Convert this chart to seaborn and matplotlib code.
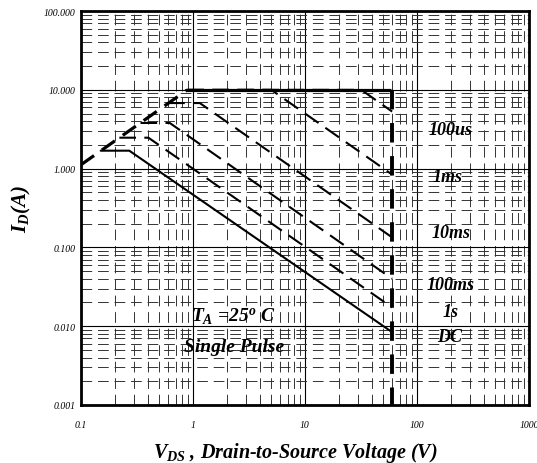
import numpy as np
import matplotlib
matplotlib.use("Agg")
import matplotlib.pyplot as plt
from matplotlib.ticker import LogLocator, NullFormatter, FixedLocator
import seaborn as sns

# SOA curve vertices (V in volts, I in amps)
rds_v = [0.1, 0.89]
rds_i = [1.12, 10.0]

idm_v = [0.89, 42.0]
idm_i = [10.0, 10.0]
idm_tail_v = [42.0, 60.0]
idm_tail_i = [10.0, 10.0]

bv_v = [60.0, 60.0]
bv_i = [10.0, 0.001]

pulse_names = ["100us", "1ms", "10ms", "100ms", "1s"]
pulse_v = [[0.89, 31.8, 60.0],
           [0.89, 5.0, 60.0],
           [0.60, 1.15, 60.0],
           [0.34, 0.62, 60.0],
           [0.22, 0.40, 60.0]]
pulse_i = [[10.0, 10.0, 5.3],
           [10.0, 10.0, 0.84],
           [6.8, 6.8, 0.134],
           [3.8, 3.8, 0.040],
           [2.47, 2.47, 0.0173]]

dc_v = [0.15, 0.27, 60.0]
dc_i = [1.69, 1.69, 0.0084]

# curve labels on the right
label_text = ["100us", "1ms", "10ms", "100ms", "1s", "DC"]
label_v = [200, 189, 200, 200, 200, 195]
label_i = [3.1, 0.80, 0.155, 0.034, 0.0154, 0.0075]

xtick_vals = [0.1, 1, 10, 100, 1000]
xtick_labels = ["0.1", "1", "10", "100", "1000"]
ytick_vals = [0.001, 0.01, 0.1, 1, 10, 100]
ytick_labels = ["0.001", "0.010", "0.100", "1.000", "10.000", "100.000"]

sns.set_theme(style="white")
plt.rcParams["font.family"] = ["Liberation Serif", "DejaVu Serif"]
plt.rcParams["text.color"] = "black"
plt.rcParams["axes.labelcolor"] = "black"
plt.rcParams["xtick.color"] = "black"
plt.rcParams["ytick.color"] = "black"
plt.rcParams["mathtext.fontset"] = "custom"
plt.rcParams["mathtext.it"] = "Liberation Serif:italic:bold"
plt.rcParams["mathtext.rm"] = "Liberation Serif:italic:bold"
plt.rcParams["mathtext.bf"] = "Liberation Serif:italic:bold"

fig = plt.figure(figsize=(5.37, 4.64), dpi=100)
ax = fig.add_axes([0.1508, 0.125, 0.8343, 0.849])
ax.set_xscale("log")
ax.set_yscale("log")
ax.set_xlim(0.1, 1000)
ax.set_ylim(0.001, 100)

# grid
ax.xaxis.set_minor_locator(LogLocator(base=10, subs=range(2, 10)))
ax.yaxis.set_minor_locator(LogLocator(base=10, subs=range(2, 10)))
ax.xaxis.set_minor_formatter(NullFormatter())
ax.yaxis.set_minor_formatter(NullFormatter())
ax.grid(which="major", color="black", lw=0.8, ls="-")
ax.grid(which="minor", color="#333333", lw=0.7, ls=(0, (11, 6)))
ax.set_axisbelow(True)

thick = 2.3
sns.lineplot(x=rds_v, y=rds_i, ax=ax, color="black", lw=thick,
             linestyle=(0, (5, 3)), estimator=None, sort=False)
sns.lineplot(x=idm_v, y=idm_i, ax=ax, color="black", lw=thick,
             estimator=None, sort=False)
sns.lineplot(x=idm_tail_v, y=idm_tail_i, ax=ax, color="black", lw=thick,
             linestyle=(0, (5, 3)), estimator=None, sort=False)
sns.lineplot(x=bv_v, y=bv_i, ax=ax, color="black", lw=thick + 0.5,
             linestyle=(0, (5, 3.5)), estimator=None, sort=False)

for name, vv, ii in zip(pulse_names, pulse_v, pulse_i):
    sns.lineplot(x=vv, y=ii, ax=ax, color="black", lw=1.5,
                 linestyle=(0, (8, 4)), estimator=None, sort=False)

sns.lineplot(x=dc_v, y=dc_i, ax=ax, color="black", lw=1.5,
             estimator=None, sort=False)

for txt, vv, ii in zip(label_text, label_v, label_i):
    ax.text(vv, ii, txt, ha="center", va="center", fontsize=13,
            fontweight="bold", fontstyle="italic")

ax.text(2.3, 0.0134, r"$T_A$ =25$^o$ C", ha="center", va="center",
        fontsize=14, fontweight="bold", fontstyle="italic")
ax.text(2.35, 0.0056, "Single Pulse", ha="center", va="center",
        fontsize=14, fontweight="bold", fontstyle="italic")

ax.xaxis.set_major_locator(FixedLocator(xtick_vals))
ax.yaxis.set_major_locator(FixedLocator(ytick_vals))
ax.set_xticklabels(xtick_labels, fontsize=7, fontstyle="italic")
ax.set_yticklabels(ytick_labels, fontsize=7, fontstyle="italic")
ax.tick_params(which="both", length=0)
ax.tick_params(axis="x", pad=11)
ax.tick_params(axis="y", pad=4)

for sp in ax.spines.values():
    sp.set_visible(True)
    sp.set_color("black")
    sp.set_linewidth(2)

ax.set_xlabel(r"$V_{DS}$ , Drain-to-Source Voltage (V)", fontsize=14.5,
              fontweight="bold", fontstyle="italic")
ax.xaxis.set_label_coords(0.478, -0.088)
ax.set_ylabel(r"$I_D$(A)", fontsize=15, fontweight="bold",
              fontstyle="italic", labelpad=8)

fig.savefig("out.png", dpi=100)
